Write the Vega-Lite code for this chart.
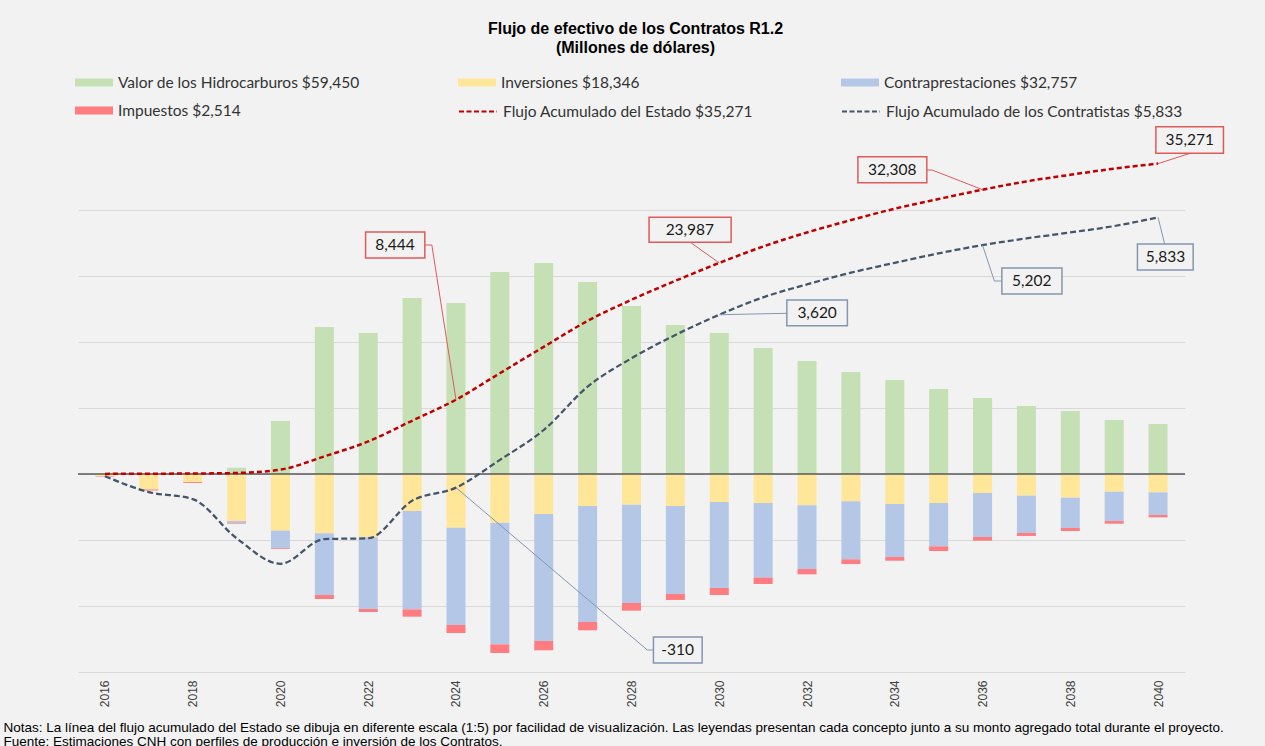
{
  "$schema": "https://vega.github.io/schema/vega-lite/v6.json",
  "width": 1107,
  "height": 528,
  "autosize": {"type": "none"},
  "padding": {"left": 78, "top": 144, "right": 80, "bottom": 74},
  "background": "#f2f2f2",
  "title": {
    "text": ["Flujo de efectivo de los Contratos R1.2", "(Millones de dólares)"],
    "anchor": "middle",
    "font": "Liberation Sans",
    "fontSize": 16,
    "fontWeight": "bold",
    "color": "#000000",
    "lineHeight": 19,
    "dx": 4,
    "offset": 17
  },
  "datasets": {
    "barras": [
      {"a": 2016, "concepto": "Inversiones $18,346", "orden": 1, "valor": -45},
      {"a": 2016, "concepto": "Impuestos $2,514", "orden": 3, "valor": -12},
      {"a": 2017, "concepto": "Inversiones $18,346", "orden": 1, "valor": -352},
      {"a": 2017, "concepto": "Impuestos $2,514", "orden": 3, "valor": -23},
      {"a": 2018, "concepto": "Inversiones $18,346", "orden": 1, "valor": -182},
      {"a": 2018, "concepto": "Impuestos $2,514", "orden": 3, "valor": -20},
      {"a": 2019, "concepto": "Valor de los Hidrocarburos $59,450", "orden": 0, "valor": 143},
      {"a": 2019, "concepto": "Inversiones $18,346", "orden": 1, "valor": -1068},
      {"a": 2019, "concepto": "Contraprestaciones $32,757", "orden": 2, "valor": -45},
      {"a": 2019, "concepto": "Impuestos $2,514", "orden": 3, "valor": -15},
      {"a": 2020, "concepto": "Valor de los Hidrocarburos $59,450", "orden": 0, "valor": 1205},
      {"a": 2020, "concepto": "Inversiones $18,346", "orden": 1, "valor": -1288},
      {"a": 2020, "concepto": "Contraprestaciones $32,757", "orden": 2, "valor": -394},
      {"a": 2020, "concepto": "Impuestos $2,514", "orden": 3, "valor": -18},
      {"a": 2021, "concepto": "Valor de los Hidrocarburos $59,450", "orden": 0, "valor": 3341},
      {"a": 2021, "concepto": "Inversiones $18,346", "orden": 1, "valor": -1348},
      {"a": 2021, "concepto": "Contraprestaciones $32,757", "orden": 2, "valor": -1402},
      {"a": 2021, "concepto": "Impuestos $2,514", "orden": 3, "valor": -91},
      {"a": 2022, "concepto": "Valor de los Hidrocarburos $59,450", "orden": 0, "valor": 3205},
      {"a": 2022, "concepto": "Inversiones $18,346", "orden": 1, "valor": -1439},
      {"a": 2022, "concepto": "Contraprestaciones $32,757", "orden": 2, "valor": -1629},
      {"a": 2022, "concepto": "Impuestos $2,514", "orden": 3, "valor": -68},
      {"a": 2023, "concepto": "Valor de los Hidrocarburos $59,450", "orden": 0, "valor": 4000},
      {"a": 2023, "concepto": "Inversiones $18,346", "orden": 1, "valor": -841},
      {"a": 2023, "concepto": "Contraprestaciones $32,757", "orden": 2, "valor": -2235},
      {"a": 2023, "concepto": "Impuestos $2,514", "orden": 3, "valor": -167},
      {"a": 2024, "concepto": "Valor de los Hidrocarburos $59,450", "orden": 0, "valor": 3886},
      {"a": 2024, "concepto": "Inversiones $18,346", "orden": 1, "valor": -1220},
      {"a": 2024, "concepto": "Contraprestaciones $32,757", "orden": 2, "valor": -2212},
      {"a": 2024, "concepto": "Impuestos $2,514", "orden": 3, "valor": -182},
      {"a": 2025, "concepto": "Valor de los Hidrocarburos $59,450", "orden": 0, "valor": 4591},
      {"a": 2025, "concepto": "Inversiones $18,346", "orden": 1, "valor": -1106},
      {"a": 2025, "concepto": "Contraprestaciones $32,757", "orden": 2, "valor": -2765},
      {"a": 2025, "concepto": "Impuestos $2,514", "orden": 3, "valor": -197},
      {"a": 2026, "concepto": "Valor de los Hidrocarburos $59,450", "orden": 0, "valor": 4795},
      {"a": 2026, "concepto": "Inversiones $18,346", "orden": 1, "valor": -909},
      {"a": 2026, "concepto": "Contraprestaciones $32,757", "orden": 2, "valor": -2886},
      {"a": 2026, "concepto": "Impuestos $2,514", "orden": 3, "valor": -212},
      {"a": 2027, "concepto": "Valor de los Hidrocarburos $59,450", "orden": 0, "valor": 4364},
      {"a": 2027, "concepto": "Inversiones $18,346", "orden": 1, "valor": -727},
      {"a": 2027, "concepto": "Contraprestaciones $32,757", "orden": 2, "valor": -2636},
      {"a": 2027, "concepto": "Impuestos $2,514", "orden": 3, "valor": -189},
      {"a": 2028, "concepto": "Valor de los Hidrocarburos $59,450", "orden": 0, "valor": 3818},
      {"a": 2028, "concepto": "Inversiones $18,346", "orden": 1, "valor": -697},
      {"a": 2028, "concepto": "Contraprestaciones $32,757", "orden": 2, "valor": -2235},
      {"a": 2028, "concepto": "Impuestos $2,514", "orden": 3, "valor": -174},
      {"a": 2029, "concepto": "Valor de los Hidrocarburos $59,450", "orden": 0, "valor": 3386},
      {"a": 2029, "concepto": "Inversiones $18,346", "orden": 1, "valor": -727},
      {"a": 2029, "concepto": "Contraprestaciones $32,757", "orden": 2, "valor": -2000},
      {"a": 2029, "concepto": "Impuestos $2,514", "orden": 3, "valor": -136},
      {"a": 2030, "concepto": "Valor de los Hidrocarburos $59,450", "orden": 0, "valor": 3205},
      {"a": 2030, "concepto": "Inversiones $18,346", "orden": 1, "valor": -636},
      {"a": 2030, "concepto": "Contraprestaciones $32,757", "orden": 2, "valor": -1955},
      {"a": 2030, "concepto": "Impuestos $2,514", "orden": 3, "valor": -159},
      {"a": 2031, "concepto": "Valor de los Hidrocarburos $59,450", "orden": 0, "valor": 2864},
      {"a": 2031, "concepto": "Inversiones $18,346", "orden": 1, "valor": -659},
      {"a": 2031, "concepto": "Contraprestaciones $32,757", "orden": 2, "valor": -1697},
      {"a": 2031, "concepto": "Impuestos $2,514", "orden": 3, "valor": -144},
      {"a": 2032, "concepto": "Valor de los Hidrocarburos $59,450", "orden": 0, "valor": 2568},
      {"a": 2032, "concepto": "Inversiones $18,346", "orden": 1, "valor": -712},
      {"a": 2032, "concepto": "Contraprestaciones $32,757", "orden": 2, "valor": -1447},
      {"a": 2032, "concepto": "Impuestos $2,514", "orden": 3, "valor": -121},
      {"a": 2033, "concepto": "Valor de los Hidrocarburos $59,450", "orden": 0, "valor": 2318},
      {"a": 2033, "concepto": "Inversiones $18,346", "orden": 1, "valor": -621},
      {"a": 2033, "concepto": "Contraprestaciones $32,757", "orden": 2, "valor": -1318},
      {"a": 2033, "concepto": "Impuestos $2,514", "orden": 3, "valor": -106},
      {"a": 2034, "concepto": "Valor de los Hidrocarburos $59,450", "orden": 0, "valor": 2136},
      {"a": 2034, "concepto": "Inversiones $18,346", "orden": 1, "valor": -682},
      {"a": 2034, "concepto": "Contraprestaciones $32,757", "orden": 2, "valor": -1205},
      {"a": 2034, "concepto": "Impuestos $2,514", "orden": 3, "valor": -83},
      {"a": 2035, "concepto": "Valor de los Hidrocarburos $59,450", "orden": 0, "valor": 1932},
      {"a": 2035, "concepto": "Inversiones $18,346", "orden": 1, "valor": -659},
      {"a": 2035, "concepto": "Contraprestaciones $32,757", "orden": 2, "valor": -985},
      {"a": 2035, "concepto": "Impuestos $2,514", "orden": 3, "valor": -106},
      {"a": 2036, "concepto": "Valor de los Hidrocarburos $59,450", "orden": 0, "valor": 1727},
      {"a": 2036, "concepto": "Inversiones $18,346", "orden": 1, "valor": -432},
      {"a": 2036, "concepto": "Contraprestaciones $32,757", "orden": 2, "valor": -1000},
      {"a": 2036, "concepto": "Impuestos $2,514", "orden": 3, "valor": -83},
      {"a": 2037, "concepto": "Valor de los Hidrocarburos $59,450", "orden": 0, "valor": 1545},
      {"a": 2037, "concepto": "Inversiones $18,346", "orden": 1, "valor": -492},
      {"a": 2037, "concepto": "Contraprestaciones $32,757", "orden": 2, "valor": -848},
      {"a": 2037, "concepto": "Impuestos $2,514", "orden": 3, "valor": -68},
      {"a": 2038, "concepto": "Valor de los Hidrocarburos $59,450", "orden": 0, "valor": 1432},
      {"a": 2038, "concepto": "Inversiones $18,346", "orden": 1, "valor": -538},
      {"a": 2038, "concepto": "Contraprestaciones $32,757", "orden": 2, "valor": -689},
      {"a": 2038, "concepto": "Impuestos $2,514", "orden": 3, "valor": -68},
      {"a": 2039, "concepto": "Valor de los Hidrocarburos $59,450", "orden": 0, "valor": 1227},
      {"a": 2039, "concepto": "Inversiones $18,346", "orden": 1, "valor": -402},
      {"a": 2039, "concepto": "Contraprestaciones $32,757", "orden": 2, "valor": -667},
      {"a": 2039, "concepto": "Impuestos $2,514", "orden": 3, "valor": -61},
      {"a": 2040, "concepto": "Valor de los Hidrocarburos $59,450", "orden": 0, "valor": 1136},
      {"a": 2040, "concepto": "Inversiones $18,346", "orden": 1, "valor": -417},
      {"a": 2040, "concepto": "Contraprestaciones $32,757", "orden": 2, "valor": -515},
      {"a": 2040, "concepto": "Impuestos $2,514", "orden": 3, "valor": -53}
    ],
    "contratistas": [
      {"a": 2016, "serie": "Flujo Acumulado de los Contratistas $5,833", "valor": -50},
      {"a": 2017, "serie": "Flujo Acumulado de los Contratistas $5,833", "valor": -410},
      {"a": 2018, "serie": "Flujo Acumulado de los Contratistas $5,833", "valor": -570},
      {"a": 2019, "serie": "Flujo Acumulado de los Contratistas $5,833", "valor": -1460},
      {"a": 2020, "serie": "Flujo Acumulado de los Contratistas $5,833", "valor": -2040},
      {"a": 2021, "serie": "Flujo Acumulado de los Contratistas $5,833", "valor": -1480},
      {"a": 2022, "serie": "Flujo Acumulado de los Contratistas $5,833", "valor": -1460},
      {"a": 2023, "serie": "Flujo Acumulado de los Contratistas $5,833", "valor": -610},
      {"a": 2024, "serie": "Flujo Acumulado de los Contratistas $5,833", "valor": -310},
      {"a": 2025, "serie": "Flujo Acumulado de los Contratistas $5,833", "valor": 320},
      {"a": 2026, "serie": "Flujo Acumulado de los Contratistas $5,833", "valor": 1000},
      {"a": 2027, "serie": "Flujo Acumulado de los Contratistas $5,833", "valor": 1985},
      {"a": 2028, "serie": "Flujo Acumulado de los Contratistas $5,833", "valor": 2630},
      {"a": 2029, "serie": "Flujo Acumulado de los Contratistas $5,833", "valor": 3160},
      {"a": 2030, "serie": "Flujo Acumulado de los Contratistas $5,833", "valor": 3620},
      {"a": 2031, "serie": "Flujo Acumulado de los Contratistas $5,833", "valor": 4015},
      {"a": 2032, "serie": "Flujo Acumulado de los Contratistas $5,833", "valor": 4310},
      {"a": 2033, "serie": "Flujo Acumulado de los Contratistas $5,833", "valor": 4575},
      {"a": 2034, "serie": "Flujo Acumulado de los Contratistas $5,833", "valor": 4800},
      {"a": 2035, "serie": "Flujo Acumulado de los Contratistas $5,833", "valor": 5015},
      {"a": 2036, "serie": "Flujo Acumulado de los Contratistas $5,833", "valor": 5202},
      {"a": 2037, "serie": "Flujo Acumulado de los Contratistas $5,833", "valor": 5355},
      {"a": 2038, "serie": "Flujo Acumulado de los Contratistas $5,833", "valor": 5490},
      {"a": 2039, "serie": "Flujo Acumulado de los Contratistas $5,833", "valor": 5635},
      {"a": 2040, "serie": "Flujo Acumulado de los Contratistas $5,833", "valor": 5833}
    ],
    "estado": [
      {"a": 2016, "serie": "Flujo Acumulado del Estado $35,271", "valor": 12},
      {"a": 2017, "serie": "Flujo Acumulado del Estado $35,271", "valor": 35},
      {"a": 2018, "serie": "Flujo Acumulado del Estado $35,271", "valor": 55},
      {"a": 2019, "serie": "Flujo Acumulado del Estado $35,271", "valor": 115},
      {"a": 2020, "serie": "Flujo Acumulado del Estado $35,271", "valor": 500},
      {"a": 2021, "serie": "Flujo Acumulado del Estado $35,271", "valor": 2000},
      {"a": 2022, "serie": "Flujo Acumulado del Estado $35,271", "valor": 3700},
      {"a": 2023, "serie": "Flujo Acumulado del Estado $35,271", "valor": 6050},
      {"a": 2024, "serie": "Flujo Acumulado del Estado $35,271", "valor": 8444},
      {"a": 2025, "serie": "Flujo Acumulado del Estado $35,271", "valor": 11450},
      {"a": 2026, "serie": "Flujo Acumulado del Estado $35,271", "valor": 14450},
      {"a": 2027, "serie": "Flujo Acumulado del Estado $35,271", "valor": 17400},
      {"a": 2028, "serie": "Flujo Acumulado del Estado $35,271", "valor": 19800},
      {"a": 2029, "serie": "Flujo Acumulado del Estado $35,271", "valor": 21950},
      {"a": 2030, "serie": "Flujo Acumulado del Estado $35,271", "valor": 23987},
      {"a": 2031, "serie": "Flujo Acumulado del Estado $35,271", "valor": 25850},
      {"a": 2032, "serie": "Flujo Acumulado del Estado $35,271", "valor": 27450},
      {"a": 2033, "serie": "Flujo Acumulado del Estado $35,271", "valor": 28850},
      {"a": 2034, "serie": "Flujo Acumulado del Estado $35,271", "valor": 30150},
      {"a": 2035, "serie": "Flujo Acumulado del Estado $35,271", "valor": 31250},
      {"a": 2036, "serie": "Flujo Acumulado del Estado $35,271", "valor": 32308},
      {"a": 2037, "serie": "Flujo Acumulado del Estado $35,271", "valor": 33250},
      {"a": 2038, "serie": "Flujo Acumulado del Estado $35,271", "valor": 34000},
      {"a": 2039, "serie": "Flujo Acumulado del Estado $35,271", "valor": 34700},
      {"a": 2040, "serie": "Flujo Acumulado del Estado $35,271", "valor": 35271}
    ],
    "cajas_contratistas": [
      {"etiqueta": "-310", "tx": 2029.05, "ty": -4000, "bx1": 2028.5, "bx2": 2029.61, "by1": -3705, "by2": -4295},
      {"etiqueta": "3,620", "tx": 2032.23, "ty": 3664, "bx1": 2031.54, "bx2": 2032.92, "by1": 3955, "by2": 3370},
      {"etiqueta": "5,202", "tx": 2037.12, "ty": 4386, "bx1": 2036.44, "bx2": 2037.81, "by1": 4682, "by2": 4091},
      {"etiqueta": "5,833", "tx": 2040.17, "ty": 4932, "bx1": 2039.53, "bx2": 2040.8, "by1": 5227, "by2": 4636}
    ],
    "guias_contratistas": [
      {"id": 1, "n": 1, "gx": 2028.5, "gy": -4000},
      {"id": 1, "n": 2, "gx": 2028.36, "gy": -4000},
      {"id": 1, "n": 3, "gx": 2024, "gy": -310},
      {"id": 2, "n": 1, "gx": 2031.54, "gy": 3652},
      {"id": 2, "n": 2, "gx": 2030, "gy": 3620},
      {"id": 3, "n": 1, "gx": 2036.44, "gy": 4386},
      {"id": 3, "n": 2, "gx": 2036.27, "gy": 4386},
      {"id": 3, "n": 3, "gx": 2036, "gy": 5202},
      {"id": 4, "n": 1, "gx": 2040.15, "gy": 5227},
      {"id": 4, "n": 2, "gx": 2040, "gy": 5833}
    ],
    "cajas_estado": [
      {"etiqueta": "8,444", "tx": 2022.61, "ty": 25989, "bx1": 2021.94, "bx2": 2023.29, "by1": 27500, "by2": 24545},
      {"etiqueta": "23,987", "tx": 2029.33, "ty": 27750, "bx1": 2028.4, "bx2": 2030.27, "by1": 29170, "by2": 26330},
      {"etiqueta": "32,308", "tx": 2033.94, "ty": 34580, "bx1": 2033.16, "bx2": 2034.73, "by1": 36057, "by2": 33102},
      {"etiqueta": "35,271", "tx": 2040.72, "ty": 37955, "bx1": 2039.95, "bx2": 2041.49, "by1": 39466, "by2": 36443}
    ],
    "guias_estado": [
      {"id": 1, "n": 1, "gx": 2023.29, "gy": 26023},
      {"id": 1, "n": 2, "gx": 2023.45, "gy": 26023},
      {"id": 1, "n": 3, "gx": 2024, "gy": 8444},
      {"id": 2, "n": 1, "gx": 2029.34, "gy": 26330},
      {"id": 2, "n": 2, "gx": 2030, "gy": 23987},
      {"id": 3, "n": 1, "gx": 2034.73, "gy": 34545},
      {"id": 3, "n": 2, "gx": 2034.85, "gy": 34545},
      {"id": 3, "n": 3, "gx": 2036, "gy": 32308},
      {"id": 4, "n": 1, "gx": 2040.73, "gy": 36443},
      {"id": 4, "n": 2, "gx": 2040, "gy": 35271}
    ]
  },
  "layer": [
    {
      "layer": [
        {
          "data": {"name": "barras"},
          "mark": {"type": "bar", "width": 19},
          "encoding": {
            "x": {
              "field": "a",
              "type": "quantitative",
              "scale": {"domain": [2015.5, 2040.5], "nice": false, "zero": false},
              "axis": {
                "values": [2016, 2018, 2020, 2022, 2024, 2026, 2028, 2030, 2032, 2034, 2036, 2038, 2040],
                "format": "d",
                "labelAngle": -90,
                "labelFont": "Liberation Sans",
                "labelFontSize": 12,
                "labelColor": "#404040",
                "labelPadding": 8,
                "ticks": false,
                "domain": false,
                "grid": false,
                "title": [
                  "Notas: La línea del flujo acumulado del Estado se dibuja en diferente escala (1:5) por facilidad de visualización. Las leyendas presentan cada concepto junto a su monto agregado total durante el proyecto.",
                  "Fuente: Estimaciones CNH con perfiles de producción e inversión de los Contratos."
                ],
                "titleX": -75,
                "titleY": 59,
                "titleAlign": "left",
                "titleAnchor": "start",
                "titleBaseline": "alphabetic",
                "titleFont": "Liberation Sans Narrow, Liberation Sans",
                "titleFontSize": 13.5,
                "titleFontWeight": "normal",
                "titleColor": "#000000",
                "titleLineHeight": 14.5
              }
            },
            "y": {
              "field": "valor",
              "type": "quantitative",
              "stack": "zero",
              "scale": {"domain": [-4500, 7500], "nice": false, "zero": false},
              "axis": {
                "values": [-4500, -3000, -1500, 0, 1500, 3000, 4500, 6000],
                "labels": false,
                "ticks": false,
                "domain": false,
                "grid": true,
                "gridColor": "#d9d9d9",
                "gridWidth": 1,
                "title": null
              }
            },
            "fill": {
              "field": "concepto",
              "type": "nominal",
              "scale": {
                "domain": ["Valor de los Hidrocarburos $59,450", "Inversiones $18,346", "Contraprestaciones $32,757", "Impuestos $2,514"],
                "range": ["#c5e0b4", "#ffe699", "#b4c7e7", "#ff7c80"]
              },
              "legend": {
                "values": ["Valor de los Hidrocarburos $59,450", "Inversiones $18,346", "Contraprestaciones $32,757", "Impuestos $2,514"],
                "orient": "none",
                "direction": "horizontal",
                "legendX": -3,
                "legendY": -71,
                "columns": 3,
                "gridAlign": "all",
                "columnPadding": 98,
                "rowPadding": 10,
                "padding": 0,
                "title": null,
                "symbolType": "M-1,-0.42H3V0.42H-1Z",
                "symbolSize": 361,
                "symbolStrokeWidth": 0,
                "symbolOpacity": 1,
                "labelOffset": 24,
                "labelFont": "Lato",
                "labelFontSize": 15.5,
                "labelColor": "#333333",
                "labelLimit": 500
              }
            },
            "order": {"field": "orden", "type": "quantitative"}
          }
        },
        {
          "data": {"values": [{}]},
          "mark": {"type": "rule", "color": "#595959", "strokeWidth": 1.5},
          "encoding": {
            "y": {"datum": 0, "type": "quantitative", "scale": {"domain": [-4500, 7500], "nice": false, "zero": false}}
          }
        },
        {
          "data": {"name": "contratistas"},
          "mark": {"type": "line", "interpolate": "monotone", "strokeWidth": 2.25, "strokeDash": [6, 3]},
          "encoding": {
            "x": {"field": "a", "type": "quantitative", "scale": {"domain": [2015.5, 2040.5], "nice": false, "zero": false}},
            "y": {"field": "valor", "type": "quantitative", "scale": {"domain": [-4500, 7500], "nice": false, "zero": false}},
            "stroke": {
              "field": "serie",
              "type": "nominal",
              "scale": {
                "domain": ["Flujo Acumulado del Estado $35,271", "Flujo Acumulado de los Contratistas $5,833"],
                "range": ["#c00000", "#44546a"]
              },
              "legend": {
                "values": ["Flujo Acumulado del Estado $35,271", "Flujo Acumulado de los Contratistas $5,833"],
                "orient": "none",
                "direction": "horizontal",
                "legendX": 380,
                "legendY": -43,
                "columns": 2,
                "gridAlign": "all",
                "columnPadding": 38,
                "padding": 0,
                "title": null,
                "symbolType": "M-1,0H3",
                "symbolSize": 361,
                "symbolStrokeWidth": 2,
                "symbolDash": [5, 2.5],
                "labelOffset": 24,
                "labelFont": "Lato",
                "labelFontSize": 15.5,
                "labelColor": "#333333",
                "labelLimit": 500
              }
            }
          }
        },
        {
          "data": {"name": "guias_contratistas"},
          "mark": {"type": "line", "color": "#8497b0", "strokeWidth": 1},
          "encoding": {
            "x": {"field": "gx", "type": "quantitative", "scale": {"domain": [2015.5, 2040.5], "nice": false, "zero": false}},
            "y": {"field": "gy", "type": "quantitative", "scale": {"domain": [-4500, 7500], "nice": false, "zero": false}},
            "detail": {"field": "id", "type": "nominal"},
            "order": {"field": "n", "type": "quantitative"}
          }
        },
        {
          "data": {"name": "cajas_contratistas"},
          "mark": {"type": "rect", "fill": "#f2f2f2", "stroke": "#8497b0", "strokeWidth": 1.5},
          "encoding": {
            "x": {"field": "bx1", "type": "quantitative", "scale": {"domain": [2015.5, 2040.5], "nice": false, "zero": false}},
            "x2": {"field": "bx2"},
            "y": {"field": "by1", "type": "quantitative", "scale": {"domain": [-4500, 7500], "nice": false, "zero": false}},
            "y2": {"field": "by2"}
          }
        },
        {
          "data": {"name": "cajas_contratistas"},
          "mark": {"type": "text", "font": "Lato", "fontSize": 15.5, "color": "#1a1a1a", "align": "center", "baseline": "middle"},
          "encoding": {
            "x": {"field": "tx", "type": "quantitative", "scale": {"domain": [2015.5, 2040.5], "nice": false, "zero": false}},
            "y": {"field": "ty", "type": "quantitative", "scale": {"domain": [-4500, 7500], "nice": false, "zero": false}},
            "text": {"field": "etiqueta", "type": "nominal"}
          }
        }
      ]
    },
    {
      "layer": [
        {
          "data": {"name": "estado"},
          "mark": {"type": "line", "interpolate": "monotone", "strokeWidth": 2.5, "strokeDash": [5, 3]},
          "encoding": {
            "x": {"field": "a", "type": "quantitative", "scale": {"domain": [2015.5, 2040.5], "nice": false, "zero": false}},
            "y": {"field": "valor", "type": "quantitative", "scale": {"domain": [-22500, 37500], "nice": false, "zero": false}, "axis": null},
            "stroke": {"field": "serie", "type": "nominal"}
          }
        },
        {
          "data": {"name": "guias_estado"},
          "mark": {"type": "line", "color": "#e05a5a", "strokeWidth": 1},
          "encoding": {
            "x": {"field": "gx", "type": "quantitative", "scale": {"domain": [2015.5, 2040.5], "nice": false, "zero": false}},
            "y": {"field": "gy", "type": "quantitative", "scale": {"domain": [-22500, 37500], "nice": false, "zero": false}, "axis": null},
            "detail": {"field": "id", "type": "nominal"},
            "order": {"field": "n", "type": "quantitative"}
          }
        },
        {
          "data": {"name": "cajas_estado"},
          "mark": {"type": "rect", "fill": "#f2f2f2", "stroke": "#e05a5a", "strokeWidth": 1.5},
          "encoding": {
            "x": {"field": "bx1", "type": "quantitative", "scale": {"domain": [2015.5, 2040.5], "nice": false, "zero": false}},
            "x2": {"field": "bx2"},
            "y": {"field": "by1", "type": "quantitative", "scale": {"domain": [-22500, 37500], "nice": false, "zero": false}, "axis": null},
            "y2": {"field": "by2"}
          }
        },
        {
          "data": {"name": "cajas_estado"},
          "mark": {"type": "text", "font": "Lato", "fontSize": 15.5, "color": "#1a1a1a", "align": "center", "baseline": "middle"},
          "encoding": {
            "x": {"field": "tx", "type": "quantitative", "scale": {"domain": [2015.5, 2040.5], "nice": false, "zero": false}},
            "y": {"field": "ty", "type": "quantitative", "scale": {"domain": [-22500, 37500], "nice": false, "zero": false}, "axis": null},
            "text": {"field": "etiqueta", "type": "nominal"}
          }
        }
      ]
    }
  ],
  "resolve": {"scale": {"y": "independent"}},
  "config": {
    "view": {"stroke": null}
  }
}
